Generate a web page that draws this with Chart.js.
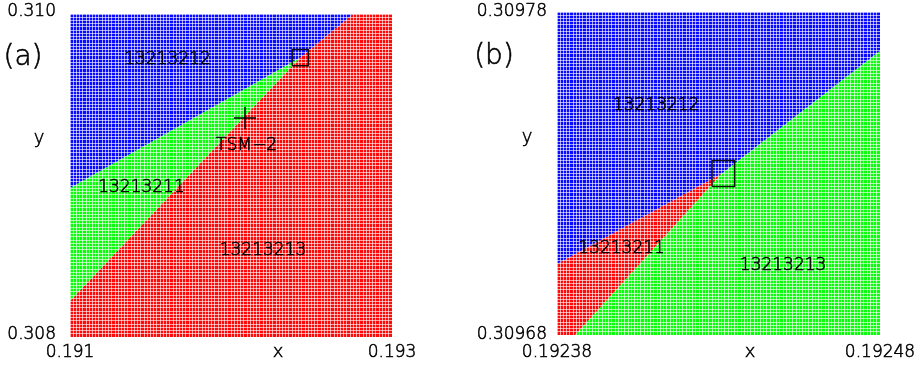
<!DOCTYPE html>
<html><head><meta charset="utf-8">
<script src="https://cdn.jsdelivr.net/npm/chart.js@4/dist/chart.umd.min.js"></script>
<style>
html,body{margin:0;padding:0;background:#fff;width:921px;height:367px;overflow:hidden}
#wa{position:absolute;left:0;top:0;width:460px;height:367px}
#wb{position:absolute;left:460px;top:0;width:461px;height:367px}
</style></head><body>
<div id="wa"><canvas id="ca" width="460" height="367"></canvas></div>
<div id="wb"><canvas id="cb" width="461" height="367"></canvas></div>
<script>
// ---------- Panel (a) data ----------
const xRangeA = [0.191, 0.193];
const yRangeA = [0.308, 0.310];
const xTickLabelsA = ['0.191', '0.193'];
const yTickLabelsA = ['0.308', '0.310'];
// region polygons (x, y)
const blueA  = [[0.191,0.310],[0.192758,0.310],[0.19243,0.30973],[0.191,0.308923],[0.191,0.310]];
const greenA = [[0.191,0.308923],[0.19243,0.30973],[0.191,0.308223],[0.191,0.308923]];
const redA   = [[0.191,0.308223],[0.19243,0.30973],[0.192758,0.310],[0.193,0.310],[0.193,0.308],[0.191,0.308],[0.191,0.308223]];
const tsmPointA = [[0.192087,0.309356]];
const zoomBoxA = [[0.19238,0.30968],[0.19248,0.30968],[0.19248,0.30978],[0.19238,0.30978],[0.19238,0.30968]];
const regionNamesA = ['13213212','13213211','TSM\u22122','13213213'];

// ---------- Panel (b) data ----------
const xRangeB = [0.19238, 0.19248];
const yRangeB = [0.30968, 0.30978];
const xTickLabelsB = ['0.19238', '0.19248'];
const yTickLabelsB = ['0.30968', '0.30978'];
const blueB  = [[0.19238,0.30978],[0.19248,0.30978],[0.19248,0.309768],[0.192431,0.30973],[0.19238,0.309702],[0.19238,0.30978]];
const redB   = [[0.19238,0.309702],[0.192431,0.30973],[0.1923856,0.30968],[0.19238,0.30968],[0.19238,0.309702]];
const greenB = [[0.192431,0.30973],[0.19248,0.309768],[0.19248,0.30968],[0.1923856,0.30968],[0.192431,0.30973]];
const zoomBoxB = [[0.192428,0.309726],[0.192435,0.309726],[0.192435,0.309734],[0.192428,0.309734],[0.192428,0.309726]];
const regionNamesB = ['13213212','13213211','13213213'];

// ---------- styling ----------
const BLUE = '#0a0aff', GREEN = '#0aff0a', RED = '#ff0a0a';
const FONT_FAMILY = '"DejaVu Sans", sans-serif';
const CELLS = 100;
const STROKE = 0.55;

const pts = arr => arr.map(p => ({x: p[0], y: p[1]}));

function regionDS(arr, color) {
  return {data: pts(arr), showLine: true, fill: 'shape', backgroundColor: color,
          borderColor: 'rgba(0,0,0,0)', borderWidth: 0, pointRadius: 0, tension: 0};
}

function drawText(ctx, t, x, y) {
  ctx.strokeText(t, x, y);
  ctx.fillText(t, x, y);
}

const textPlugin = {
  id: 'txt',
  afterDraw(chart, args, opts) {
    const ctx = chart.ctx, sx = chart.scales.x, sy = chart.scales.y;
    ctx.save();
    ctx.fillStyle = '#000';
    ctx.strokeStyle = '#000';
    ctx.lineWidth = STROKE;
    ctx.textAlign = 'center';
    ctx.textBaseline = 'alphabetic';
    ctx.font = '200 17px ' + FONT_FAMILY;
    for (const l of opts.labels) {
      drawText(ctx, l.text, sx.getPixelForValue(l.x), sy.getPixelForValue(l.y) + 6);
    }
    ctx.font = '200 18px ' + FONT_FAMILY;
    drawText(ctx, 'x', opts.xTitle[0], opts.xTitle[1]);
    drawText(ctx, 'y', opts.yTitle[0], opts.yTitle[1]);
    ctx.font = '200 28px ' + FONT_FAMILY;
    drawText(ctx, opts.tag, opts.tagPos[0], opts.tagPos[1]);
    ctx.restore();
  }
};

function makePanel(id, cfg) {
  const tickFont = {family: FONT_FAMILY, size: 17, weight: 200};
  const axis = (range, labels, extra) => Object.assign({
    type: 'linear', min: range[0], max: range[1],
    afterBuildTicks: s => { s.ticks = Array.from({length: CELLS + 1}, (_, i) => ({value: range[0] + (range[1] - range[0]) * i / CELLS})); },
    grid: {color: 'rgba(255,255,255,0.62)', lineWidth: 1, drawTicks: false},
    border: {display: false},
  }, extra(labels, tickFont));
  new Chart(document.getElementById(id), {
    type: 'scatter',
    data: {datasets: [
      ...cfg.regions.map(r => regionDS(r[0], r[1])),
      {data: pts(cfg.box), showLine: true, fill: false, borderColor: '#111', borderWidth: 1.5, pointRadius: 0, tension: 0},
      ...(cfg.cross ? [{data: pts(cfg.cross), showLine: false, pointStyle: 'cross', pointRadius: 11, borderColor: '#000', borderWidth: 1.5, backgroundColor: '#000'}] : [])
    ]},
    options: {
      responsive: false, animation: false, events: [],
      layout: {padding: {left: 0, top: cfg.top, right: cfg.right, bottom: 0}},
      plugins: {legend: {display: false}, tooltip: {enabled: false}, filler: {drawTime: 'beforeDraw'},
        txt: {labels: cfg.labels, xTitle: cfg.xTitle, yTitle: cfg.yTitle, tag: cfg.tag, tagPos: cfg.tagPos}},
      scales: {
        x: axis(cfg.xRange, cfg.xLabels, (labels, f) => ({
          afterFit: s => { s.height = cfg.xAxisH; s.paddingLeft = 0; s.paddingRight = 0; },
          ticks: {autoSkip: false, maxRotation: 0, minRotation: 0, padding: cfg.xPad, font: f, color: '#000',
            textStrokeColor: '#000', textStrokeWidth: STROKE,
            callback: (v, i, arr) => i === 0 ? labels[0] : (i === arr.length - 1 ? labels[1] : '')}
        })),
        y: axis(cfg.yRange, cfg.yLabels, (labels, f) => ({
          afterFit: s => { s.width = cfg.yAxisW; s.paddingTop = 0; s.paddingBottom = 0; },
          ticks: {autoSkip: false, padding: cfg.yPad, labelOffset: cfg.yOff, font: f, color: '#000',
            textStrokeColor: '#000', textStrokeWidth: STROKE,
            callback: (v, i, arr) => i === 0 ? labels[0] : (i === arr.length - 1 ? labels[1] : '')}
        }))
      }
    },
    plugins: [textPlugin]
  });
}

makePanel('ca', {
  xRange: xRangeA, yRange: yRangeA, xLabels: xTickLabelsA, yLabels: yTickLabelsA,
  regions: [[blueA, BLUE], [greenA, GREEN], [redA, RED]],
  box: zoomBoxA, cross: tsmPointA,
  labels: [
    {text: regionNamesA[0], x: 0.1916056, y: 0.3097276},
    {text: regionNamesA[1], x: 0.191444,  y: 0.308938},
    {text: regionNamesA[2], x: 0.1920963, y: 0.309195},
    {text: regionNamesA[3], x: 0.1921988, y: 0.3085418}
  ],
  xTitle: [278, 357], yTitle: [39, 143], tag: '(a)', tagPos: [23, 65],
  top: 14, right: 68, xAxisH: 30, yAxisW: 70, xPad: 5, yPad: 14, yOff: -2
});

makePanel('cb', {
  xRange: xRangeB, yRange: yRangeB, xLabels: xTickLabelsB, yLabels: yTickLabelsB,
  regions: [[blueB, BLUE], [redB, RED], [greenB, GREEN]],
  box: zoomBoxB, cross: null,
  labels: [
    {text: regionNamesB[0], x: 0.1924107, y: 0.3097514},
    {text: regionNamesB[1], x: 0.1924,    y: 0.3097071},
    {text: regionNamesB[2], x: 0.19245,   y: 0.309702}
  ],
  xTitle: [290, 357], yTitle: [67, 142], tag: '(b)', tagPos: [34, 64],
  top: 12, right: 41, xAxisH: 32, yAxisW: 97, xPad: 7, yPad: 10, yOff: 0
});
</script>
</body></html>
